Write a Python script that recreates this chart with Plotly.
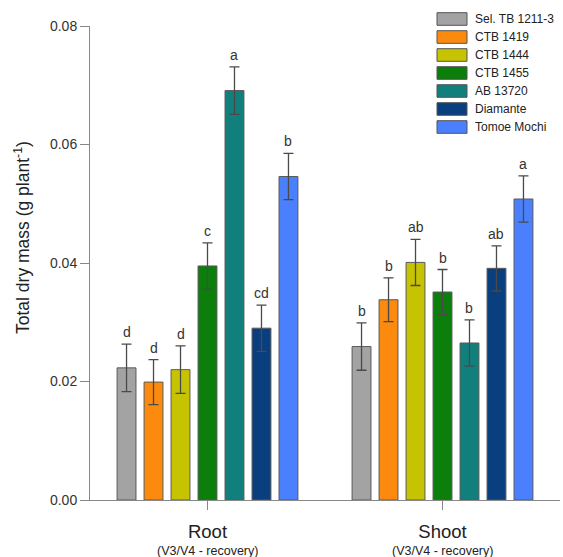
import plotly.graph_objects as go

categories = ["Root", "Shoot"]
sub_labels = ["(V3/V4 - recovery)", "(V3/V4 - recovery)"]
genotypes = ["Sel. TB 1211-3", "CTB 1419", "CTB 1444", "CTB 1455", "AB 13720", "Diamante", "Tomoe Mochi"]
colors = ["#a3a3a3", "#fb8a0e", "#c6c402", "#0b7e0b", "#117f7c", "#093f7e", "#4a80fd"]

root_vals = [0.0223, 0.0199, 0.0220, 0.0395, 0.0691, 0.0290, 0.0546]
root_errs = [0.0040, 0.0038, 0.0040, 0.0039, 0.0040, 0.0039, 0.0039]
root_letters = ["d", "d", "d", "c", "a", "cd", "b"]

shoot_vals = [0.0259, 0.0338, 0.0401, 0.0351, 0.0265, 0.0391, 0.0508]
shoot_errs = [0.0040, 0.0037, 0.0039, 0.0038, 0.0039, 0.0038, 0.0039]
shoot_letters = ["b", "b", "ab", "b", "b", "ab", "a"]

y_title = "Total dry mass (g plant<sup>-1</sup>)"

FONT = "Arial, Liberation Sans, sans-serif"
BARGAP = 0.196
GROUPGAP = 0.3

fig = go.Figure()
n = len(genotypes)
for i, g in enumerate(genotypes):
    fig.add_trace(go.Bar(
        x=[0, 1], y=[root_vals[i], shoot_vals[i]], name=g,
        marker=dict(color=colors[i], line=dict(color="#5a5a5a", width=1)),
        error_y=dict(type="data", array=[root_errs[i], shoot_errs[i]],
                     color="#4a4a4a", thickness=1.3, width=5),
        showlegend=False,
    ))

# significance letters above the error bars
slot = (1 - BARGAP) / n
annotations = []
for gi, (vals, errs, letters) in enumerate([(root_vals, root_errs, root_letters),
                                           (shoot_vals, shoot_errs, shoot_letters)]):
    for i in range(n):
        annotations.append(dict(
            x=gi + (i - (n - 1) / 2) * slot, y=vals[i] + errs[i],
            xref="x", yref="y", text=letters[i], showarrow=False,
            yanchor="bottom", yshift=2,
            font=dict(family=FONT, size=14, color="#333333")))

# sub-labels under category names
for gi, s in enumerate(sub_labels):
    annotations.append(dict(x=gi, y=0, xref="x", yref="paper", text=s, showarrow=False,
                            yanchor="top", yshift=-42,
                            font=dict(family=FONT, size=12.5, color="#222222")))

# custom legend (large swatches like the original)
L, T, H = 90, 26, 474
W = 470
def px(xp):
    return (xp - L) / W
def py(yp):
    return (T + H - yp) / H
shapes = []
for i, g in enumerate(genotypes):
    cy = 19 + 18 * i
    shapes.append(dict(type="rect", xref="paper", yref="paper",
                       x0=px(437), x1=px(467), y0=py(cy + 6.3), y1=py(cy - 6.3),
                       fillcolor=colors[i], line=dict(color="#555555", width=1)))
    annotations.append(dict(xref="paper", yref="paper", x=px(473), y=py(cy),
                            text=g, showarrow=False, xanchor="left", yanchor="middle",
                            font=dict(family=FONT, size=12, color="#222222")))

# y-axis title
annotations.append(dict(xref="paper", yref="paper", x=px(22), y=py(238), text=y_title,
                        textangle=-90, showarrow=False, xanchor="center", yanchor="middle",
                        font=dict(family=FONT, size=17.5, color="#222222")))

fig.update_layout(
    width=563, height=557,
    margin=dict(l=90, r=3, t=26, b=57),
    paper_bgcolor="white", plot_bgcolor="white",
    barmode="group", bargap=BARGAP, bargroupgap=GROUPGAP,
    font=dict(family=FONT, color="#333333"),
    annotations=annotations, shapes=shapes,
    xaxis=dict(range=[-0.5, 1.5], tickvals=[0, 1], ticktext=categories,
               automargin=False, ticklabelstandoff=6,
               ticks="outside", ticklen=9, tickcolor="#888888",
               showline=True, linecolor="#888888", linewidth=1,
               showgrid=False, zeroline=False,
               tickfont=dict(family=FONT, size=18.5, color="#222222")),
    yaxis=dict(range=[0, 0.08], tickvals=[0, 0.02, 0.04, 0.06, 0.08], tickformat=".2f",
               automargin=False,
               ticks="outside", ticklen=9, tickcolor="#888888",
               showline=True, linecolor="#888888", linewidth=1,
               showgrid=False, zeroline=False,
               tickfont=dict(family=FONT, size=14, color="#333333")),
)

fig.write_html("out.html", config={"displayModeBar": False},
               post_script="document.body.style.margin='0';document.body.style.overflow='hidden';")
